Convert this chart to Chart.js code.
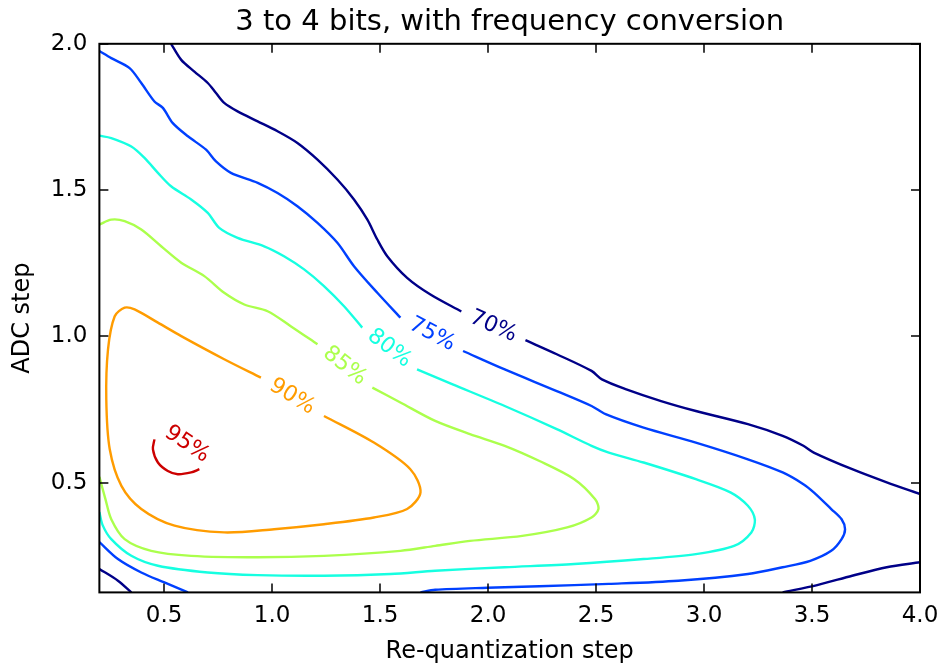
<!DOCTYPE html>
<html>
<head>
<meta charset="utf-8">
<script src="https://cdn.jsdelivr.net/npm/chart.js@4.4.1/dist/chart.umd.min.js"></script>
<style>
  html, body { margin: 0; padding: 0; background: #fff; }
  #wrap { width: 943px; height: 666px; }
</style>
</head>
<body>
<div id="wrap"><canvas id="contourChart"></canvas></div>
<script>
const levels = ['70%', '75%', '80%', '85%', '90%', '95%'];
const xTicks = [0.5, 1.0, 1.5, 2.0, 2.5, 3.0, 3.5, 4.0];
const yTicks = [0.5, 1.0, 1.5, 2.0];

// contour pieces as [re-quantization step, ADC step]; first two pieces sit either side of the label
const c70 = [
    [[0.532,2.0],[0.579,1.945],[0.640,1.905],[0.702,1.866],[0.740,1.832],[0.778,1.798],[0.840,1.769],[0.933,1.735],[1.025,1.701],[1.117,1.661],[1.210,1.604],[1.302,1.536],[1.379,1.468],[1.441,1.399],[1.487,1.331],[1.533,1.274],[1.625,1.200],[1.733,1.143],[1.876,1.085]],
    [[2.173,0.987],[2.318,0.939],[2.479,0.882],[2.527,0.853],[2.640,0.819],[2.801,0.779],[2.962,0.745],[3.203,0.700],[3.364,0.660],[3.460,0.626],[3.508,0.603],[3.686,0.546],[3.846,0.501],[4.0,0.461]],
    [[0.2,0.205],[0.286,0.165],[0.348,0.125]],
    [[3.364,0.125],[3.524,0.150],[3.686,0.182],[3.846,0.211],[4.0,0.228]]
];
const c75 = [
    [[0.2,1.975],[0.255,1.951],[0.340,1.917],[0.394,1.866],[0.455,1.803],[0.494,1.781],[0.540,1.729],[0.610,1.684],[0.694,1.638],[0.740,1.598],[0.809,1.559],[0.933,1.525],[1.025,1.490],[1.117,1.445],[1.210,1.388],[1.302,1.320],[1.379,1.240],[1.487,1.149],[1.594,1.064]],
    [[1.884,0.950],[2.077,0.887],[2.318,0.813],[2.479,0.762],[2.544,0.734],[2.720,0.688],[2.962,0.637],[3.203,0.580],[3.364,0.535],[3.460,0.495],[3.508,0.467],[3.589,0.410],[3.637,0.375],[3.653,0.341],[3.637,0.307],[3.589,0.267],[3.492,0.233],[3.364,0.211],[3.203,0.188],[2.881,0.165],[2.559,0.154],[2.238,0.146],[1.996,0.141],[1.755,0.134],[1.687,0.125]],
    [[0.2,0.297],[0.286,0.239],[0.394,0.193],[0.501,0.159],[0.610,0.125]]
];
const c80 = [
    [[0.2,1.686],[0.255,1.678],[0.348,1.649],[0.409,1.610],[0.471,1.559],[0.532,1.513],[0.625,1.468],[0.702,1.422],[0.755,1.371],[0.840,1.337],[0.963,1.308],[1.055,1.274],[1.148,1.229],[1.240,1.172],[1.333,1.103],[1.417,1.030]],
    [[1.671,0.887],[1.836,0.836],[2.077,0.762],[2.318,0.683],[2.479,0.626],[2.559,0.603],[2.720,0.569],[2.962,0.512],[3.122,0.467],[3.203,0.421],[3.235,0.375],[3.219,0.330],[3.139,0.284],[2.962,0.256],[2.720,0.239],[2.399,0.222],[2.077,0.211],[1.755,0.199],[1.548,0.188],[1.240,0.182],[0.933,0.184],[0.702,0.193],[0.471,0.216],[0.348,0.250],[0.255,0.307],[0.215,0.355],[0.2,0.400]]
];
const c85 = [
    [[0.2,1.382],[0.255,1.399],[0.317,1.394],[0.394,1.365],[0.486,1.308],[0.579,1.252],[0.686,1.206],[0.778,1.149],[0.871,1.109],[0.979,1.086],[1.086,1.035],[1.210,0.973]],
    [[1.464,0.825],[1.594,0.774],[1.755,0.711],[1.916,0.666],[2.077,0.626],[2.238,0.574],[2.399,0.512],[2.495,0.444],[2.511,0.410],[2.479,0.381],[2.366,0.347],[2.158,0.318],[1.916,0.301],[1.755,0.284],[1.594,0.267],[1.240,0.250],[0.933,0.245],[0.625,0.250],[0.440,0.267],[0.317,0.307],[0.255,0.375],[0.228,0.444],[0.2,0.520]]
];
const c90 = [
    [[1.240,0.728],[1.471,0.637],[1.640,0.546],[1.687,0.467],[1.625,0.410],[1.471,0.381],[1.240,0.358],[1.009,0.341],[0.778,0.330],[0.548,0.353],[0.394,0.410],[0.302,0.489],[0.248,0.614],[0.232,0.785],[0.240,0.956],[0.271,1.069],[0.317,1.098],[0.363,1.092],[0.471,1.047],[0.579,1.001],[0.778,0.922],[0.948,0.859]]
];
const c95 = [
    [[0.455,0.648],[0.448,0.614],[0.471,0.569],[0.517,0.540],[0.563,0.529],[0.625,0.535],[0.663,0.546]]
];
const labelX = [2.024, 1.740, 1.543, 1.336, 1.093, 0.606];
const labelY = [1.034, 1.007, 0.959, 0.899, 0.794, 0.631];

const contours = [c70, c75, c80, c85, c90, c95];
const lineColors = ['#000088', '#0040ff', '#16ffe1', '#abff4c', '#ff9c00', '#cc0000'];

Chart.defaults.font.family = "'DejaVu Sans', sans-serif";
Chart.defaults.color = '#000';

const datasets = [];
contours.forEach(function(pieces, i) {
    pieces.forEach(function(piece) {
        datasets.push({
            label: levels[i],
            data: piece.map(p => ({ x: p[0], y: p[1] })),
            showLine: true,
            borderColor: lineColors[i],
            borderWidth: 2.4,
            pointRadius: 0,
            tension: 0.3,
            fill: false
        });
    });
});

// frame, inward ticks on all four sides, contour labels
const axesDecor = {
    id: 'axesDecor',
    afterDatasetsDraw(chart) {
        const ctx = chart.ctx;
        const a = chart.chartArea;
        const xs = chart.scales.x, ys = chart.scales.y;
        ctx.save();

        contours.forEach(function(pieces, i) {
            const first = pieces[0];
            const p = first[first.length - 1];
            const q = pieces.length > 1 ? pieces[1][0] : first[0];
            const dx = xs.getPixelForValue(q[0]) - xs.getPixelForValue(p[0]);
            const dy = ys.getPixelForValue(q[1]) - ys.getPixelForValue(p[1]);
            let ang = Math.atan2(dy, dx);
            if (ang > Math.PI / 2) ang -= Math.PI;
            if (ang < -Math.PI / 2) ang += Math.PI;
            ctx.save();
            ctx.translate(xs.getPixelForValue(labelX[i]), ys.getPixelForValue(labelY[i]));
            ctx.rotate(ang);
            ctx.font = "22px 'DejaVu Sans'";
            ctx.fillStyle = lineColors[i];
            ctx.textAlign = 'center';
            ctx.textBaseline = 'middle';
            ctx.fillText(levels[i], 0, 0);
            ctx.restore();
        });

        ctx.strokeStyle = '#000';
        ctx.lineWidth = 1.5;
        ctx.beginPath();
        xTicks.forEach(function(v) {
            const px = Math.round(xs.getPixelForValue(v));
            ctx.moveTo(px, a.bottom); ctx.lineTo(px, a.bottom - 9);
            ctx.moveTo(px, a.top); ctx.lineTo(px, a.top + 9);
        });
        yTicks.forEach(function(v) {
            const py = Math.round(ys.getPixelForValue(v));
            ctx.moveTo(a.left, py); ctx.lineTo(a.left + 9, py);
            ctx.moveTo(a.right, py); ctx.lineTo(a.right - 9, py);
        });
        ctx.stroke();

        ctx.lineWidth = 2;
        ctx.strokeRect(a.left, a.top, a.right - a.left, a.bottom - a.top);
        ctx.restore();
    }
};

new Chart(document.getElementById('contourChart'), {
    type: 'scatter',
    data: { datasets: datasets },
    options: {
        responsive: true,
        maintainAspectRatio: false,
        animation: false,
        layout: { padding: { left: 0, right: 23, top: 0, bottom: 0 } },
        plugins: {
            legend: { display: false },
            tooltip: { enabled: false },
            title: {
                display: true,
                fullSize: false,
                text: '3 to 4 bits, with frequency conversion',
                color: '#000',
                font: { size: 29, weight: 'normal' },
                padding: { top: 5, bottom: 4 }
            }
        },
        scales: {
            x: {
                type: 'linear',
                min: 0.2,
                max: 4.0,
                afterBuildTicks: function(scale) {
                    scale.ticks = xTicks.map(v => ({ value: v }));
                },
                afterFit: function(scale) {
                    scale.paddingRight = 0;
                },
                ticks: {
                    padding: 10,
                    maxRotation: 0,
                    font: { size: 23 },
                    callback: v => Number(v).toFixed(1)
                },
                grid: { display: false, drawTicks: false },
                border: { display: false },
                title: {
                    display: true,
                    text: 'Re-quantization step',
                    font: { size: 24, lineHeight: 1.0 },
                    padding: { top: 0, bottom: 2 }
                }
            },
            y: {
                type: 'linear',
                min: 0.125,
                max: 2.0,
                afterBuildTicks: function(scale) {
                    scale.ticks = yTicks.map(v => ({ value: v }));
                },
                ticks: {
                    padding: 12,
                    font: { size: 23 },
                    callback: v => Number(v).toFixed(1)
                },
                grid: { display: false, drawTicks: false },
                border: { display: false },
                title: {
                    display: true,
                    text: 'ADC step',
                    font: { size: 24 },
                    padding: { top: 8, bottom: 2 }
                }
            }
        }
    },
    plugins: [axesDecor]
});
</script>
</body>
</html>
